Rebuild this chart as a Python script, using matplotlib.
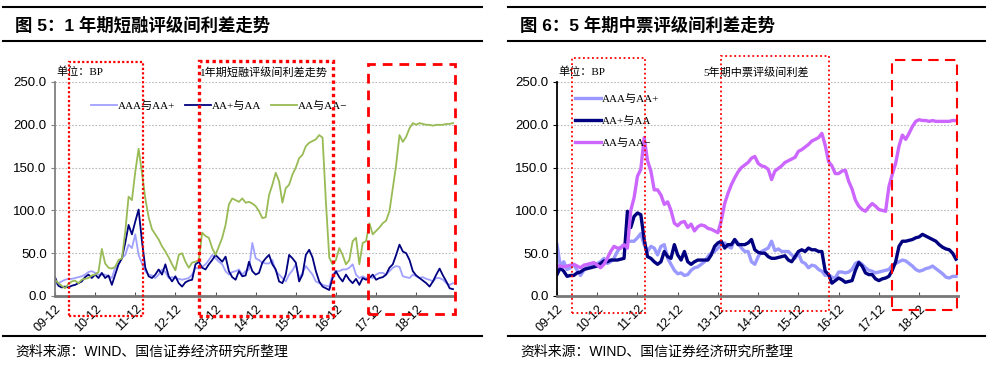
import numpy as np
import matplotlib
matplotlib.use("Agg")
import matplotlib.pyplot as plt
from matplotlib.lines import Line2D
from matplotlib.patches import Rectangle
import matplotlib.transforms as mtransforms

plt.rcParams['font.family'] = ['Liberation Sans', 'Noto Sans CJK SC', 'DejaVu Sans']

# ---------------- data (monthly, starting 2009-12) ----------------
tick_labels = ['09-12', '10-12', '11-12', '12-12', '13-12', '14-12', '15-12', '16-12', '17-12', '18-12']
series_names = ['AAA与AA+', 'AA+与AA', 'AA与AA−']

cp_aaa_aap = [13, 15, 17, 19, 20, 20, 21, 22, 23, 25, 28, 29, 27, 25, 25, 25, 23, 21, 33, 37,
              44, 48, 60, 56, 72, 48, 38, 29, 25, 24, 21, 25, 31, 28, 21, 22, 21, 20, 19, 20,
              21, 25, 33, 32, 34, 37, 42, 48, 44, 40, 37, 29, 25, 28, 29, 31, 25, 29, 31, 62,
              44, 42, 39, 38, 38, 42, 29, 25, 21, 17, 25, 30, 37, 21, 27, 35, 30, 25, 17, 15,
              13, 12, 11, 25, 29, 29, 31, 31, 33, 37, 25, 21, 23, 21, 23, 21, 25, 27, 27, 25,
              29, 33, 35, 34, 23, 22, 21, 25, 23, 21, 22, 20, 19, 17, 21, 21, 19, 15, 13, 15]
cp_aap_aa = [22, 12, 10, 11, 10, 12, 13, 15, 17, 22, 25, 21, 25, 21, 27, 21, 24, 13, 25, 37,
             44, 62, 83, 72, 87, 101, 64, 33, 23, 21, 25, 31, 25, 37, 23, 17, 23, 15, 11, 16,
             18, 19, 37, 40, 33, 31, 37, 42, 48, 44, 40, 46, 29, 22, 19, 29, 23, 24, 40, 29,
             25, 27, 39, 44, 48, 37, 31, 17, 15, 25, 48, 44, 39, 17, 25, 48, 54, 45, 29, 17,
             11, 9, 7, 21, 29, 22, 17, 25, 19, 15, 20, 13, 21, 19, 21, 25, 19, 21, 22, 25,
             33, 37, 48, 60, 52, 50, 42, 29, 24, 21, 18, 15, 11, 17, 25, 32, 24, 17, 9, 8]
cp_aa_aam = [19, 15, 12, 9, 14, 17, 18, 15, 19, 20, 21, 24, 25, 28, 55, 38, 33, 32, 34, 42,
             44, 75, 116, 112, 145, 172, 144, 114, 92, 78, 72, 66, 58, 52, 45, 37, 30, 48, 50, 40,
             33, 39, 40, 42, 74, 70, 68, 56, 48, 58, 68, 83, 107, 114, 112, 110, 114, 109, 110, 108,
             105, 99, 91, 92, 118, 130, 144, 134, 109, 126, 130, 142, 150, 161, 165, 175, 179, 181, 183, 188,
             185, 110, 45, 37, 42, 56, 48, 37, 42, 64, 68, 37, 62, 64, 85, 72, 76, 80, 85, 88,
             99, 126, 153, 188, 180, 186, 196, 202, 200, 202, 201, 200, 200, 199, 200, 200, 200, 201, 201, 202]

mtn_aaa_aap = [60, 35, 40, 31, 33, 37, 30, 24, 30, 35, 37, 37, 38, 40, 44, 38, 40, 44, 52, 57,
               60, 64, 64, 64, 68, 73, 60, 52, 58, 56, 48, 58, 60, 44, 37, 30, 26, 27, 24, 25,
               30, 33, 34, 37, 40, 46, 50, 52, 56, 60, 62, 58, 56, 66, 62, 56, 52, 52, 40, 37,
               46, 52, 54, 56, 64, 53, 55, 52, 52, 52, 48, 44, 50, 40, 38, 33, 36, 35, 31, 29,
               24, 25, 22, 21, 28, 28, 27, 28, 31, 38, 40, 37, 33, 30, 29, 27, 28, 29, 30, 31,
               36, 38, 40, 42, 41, 38, 35, 31, 29, 30, 32, 33, 35, 32, 29, 26, 22, 21, 23, 23]
mtn_aap_aa = [25, 33, 29, 23, 24, 24, 27, 28, 31, 32, 33, 34, 35, 38, 41, 40, 42, 42, 42, 43,
              44, 99, 80, 93, 97, 95, 66, 46, 44, 40, 37, 40, 52, 46, 44, 60, 48, 42, 52, 40,
              37, 40, 42, 42, 42, 42, 48, 58, 62, 64, 56, 60, 60, 66, 60, 60, 60, 62, 66, 54,
              51, 50, 50, 46, 44, 44, 45, 46, 47, 42, 40, 46, 52, 54, 52, 56, 54, 54, 52, 52,
              29, 25, 15, 18, 21, 19, 16, 17, 18, 30, 39, 35, 27, 25, 25, 20, 18, 20, 21, 23,
              30, 40, 58, 64, 64, 65, 66, 68, 69, 72, 70, 68, 66, 64, 60, 57, 55, 54, 50, 43]
mtn_aa_aam = [35, 35, 34, 35, 36, 37, 35, 33, 36, 37, 38, 39, 36, 33, 37, 44, 52, 58, 56, 56,
              60, 56, 100, 115, 140, 148, 185, 158, 146, 124, 124, 118, 107, 110, 100, 85, 82, 86, 87, 80,
              84, 76, 81, 83, 82, 79, 78, 76, 74, 88, 108, 120, 130, 138, 145, 150, 153, 156, 161, 163,
              155, 152, 151, 148, 136, 146, 149, 152, 156, 158, 160, 162, 169, 171, 174, 177, 181, 183, 185, 190,
              176, 157, 152, 143, 143, 146, 147, 134, 125, 112, 105, 101, 99, 104, 108, 105, 101, 100, 99, 128,
              142, 155, 175, 188, 183, 190, 198, 204, 206, 205, 205, 204, 205, 204, 204, 204, 204, 204, 205, 205]

W, H = 990, 365
fig = plt.figure(figsize=(W / 100, H / 100), dpi=100)


def fx(px):
    return px / W


def fy(py):
    return 1 - py / H


def hline(x0, x1, y, lw=1.5):
    fig.add_artist(Line2D([fx(x0), fx(x1)], [fy(y), fy(y)], color='black', lw=lw))


serif_cjk = ['Liberation Serif', 'Noto Sans CJK SC']


def make_panel(left_px, right_px, frame_x0, frame_x1, title, subtitle, sub_x_px,
               data, colors, lw, spine_color, boxes, legend_mode):
    ax = fig.add_axes([fx(left_px), fy(296), (right_px - left_px) / W, 214 / H])
    n = len(data[0])
    x = np.arange(n)
    for vals, c, name in zip(data, colors, series_names):
        ax.plot(x, vals, color=c, lw=lw, label=name, solid_joinstyle='round')
    ax.set_ylim(0, 250)
    ax.set_xlim(0, 119.6)
    ax.set_yticks([0, 50, 100, 150, 200, 250])
    ax.set_yticklabels(['%.1f' % v for v in [0, 50, 100, 150, 200, 250]], fontsize=9.5)
    ax.set_xticks(np.arange(len(tick_labels)) * 12)
    ax.set_xticklabels(tick_labels, rotation=45, ha='right', va='top',
                       rotation_mode='anchor', fontsize=9)
    ax.tick_params(axis='x', direction='in', length=3, color='#555555', pad=5)
    ax.tick_params(axis='y', direction='out', length=3, color=spine_color, pad=3)
    for s in ['top', 'right']:
        ax.spines[s].set_visible(False)
    ax.spines['left'].set_color(spine_color)
    ax.spines['left'].set_linewidth(1.3)
    ax.spines['bottom'].set_color('#777777')
    ax.spines['bottom'].set_linewidth(2.0)
    ax.grid(axis='y', color='#BBBBBB', linestyle=(0, (1.5, 1.5)), lw=0.8)
    ax.set_axisbelow(True)

    width = right_px - left_px
    ax.text((left_px + 1 - left_px) / width, (296 - 72) / 214, '单位：BP', transform=ax.transAxes,
            fontsize=8, family=serif_cjk, va='center', ha='left')
    ax.text((sub_x_px - left_px) / width, (296 - 72) / 214, subtitle, transform=ax.transAxes,
            fontsize=8, family=serif_cjk, va='center', ha='left')

    trans = mtransforms.blended_transform_factory(ax.transData, ax.transAxes)
    for (x0, x1, y0, y1, ls, blw) in boxes:
        r = Rectangle((x0, y0), x1 - x0, y1 - y0, transform=trans, fill=False,
                      edgecolor='#FF0000', lw=blw, linestyle=ls, clip_on=False, zorder=5)
        ax.add_patch(r)

    if legend_mode == 'h':
        leg = ax.legend(loc='center left', bbox_to_anchor=(0.06, 0.888), ncol=3,
                        handlelength=2.3, handletextpad=0.1, columnspacing=0.9,
                        frameon=True, facecolor='white', edgecolor='none', framealpha=1,
                        borderpad=0.6, prop={'family': serif_cjk, 'size': 8})
    else:
        leg = ax.legend(loc='upper left', bbox_to_anchor=(0.02, 0.99), ncol=1,
                        handlelength=2.3, handletextpad=0.1, labelspacing=1.05,
                        frameon=False, prop={'family': serif_cjk, 'size': 8})
    leg.set_zorder(4)

    hline(frame_x0, frame_x1, 7)
    hline(frame_x0, frame_x1, 41)
    hline(frame_x0, frame_x1, 335.5)
    fig.text(fx(frame_x0 + 12), fy(25), title, fontsize=12.5, fontweight='bold',
             family=['Liberation Sans', 'Noto Sans CJK SC'], va='center', ha='left')
    fig.text(fx(frame_x0 + 12), fy(352), '资料来源：WIND、国信证券经济研究所整理', fontsize=10,
             family=['Liberation Sans', 'Noto Sans CJK SC'], va='center', ha='left')
    return ax


def ymap(py):
    return (296 - py) / 214


left_boxes = [
    (4.2, 26.4, ymap(316), ymap(62), (0, (1, 1)), 1.6),
    (43.2, 83.1, ymap(316), ymap(61), (0, (1, 1)), 2.4),
    (93.6, 119.6, ymap(314), ymap(64), (0, (3.5, 2.5)), 2.0),
]
right_boxes = [
    (4.5, 26.2, ymap(313), ymap(58), (0, (1, 1.5)), 1.3),
    (48.8, 81.2, ymap(311), ymap(56), (0, (1, 1.5)), 1.3),
    (99.8, 119.2, ymap(310), ymap(60), (0, (5, 3)), 1.5),
]

make_panel(55, 455, 3, 482, '图 5：1 年期短融评级间利差走势', '1年期短融评级间利差走势', 200,
           [cp_aaa_aap, cp_aap_aa, cp_aa_aam], ['#A0A0FF', '#000080', '#99BB55'], 1.3,
           '#808080', left_boxes, 'h')
make_panel(557, 958, 508, 985, '图 6：5 年期中票评级间利差走势', '5年期中票评级间利差', 703,
           [mtn_aaa_aap, mtn_aap_aa, mtn_aa_aam], ['#9999FF', '#000080', '#CC66FF'], 2.4,
           'black', right_boxes, 'v')

fig.savefig('out.png', dpi=100, facecolor='white')
